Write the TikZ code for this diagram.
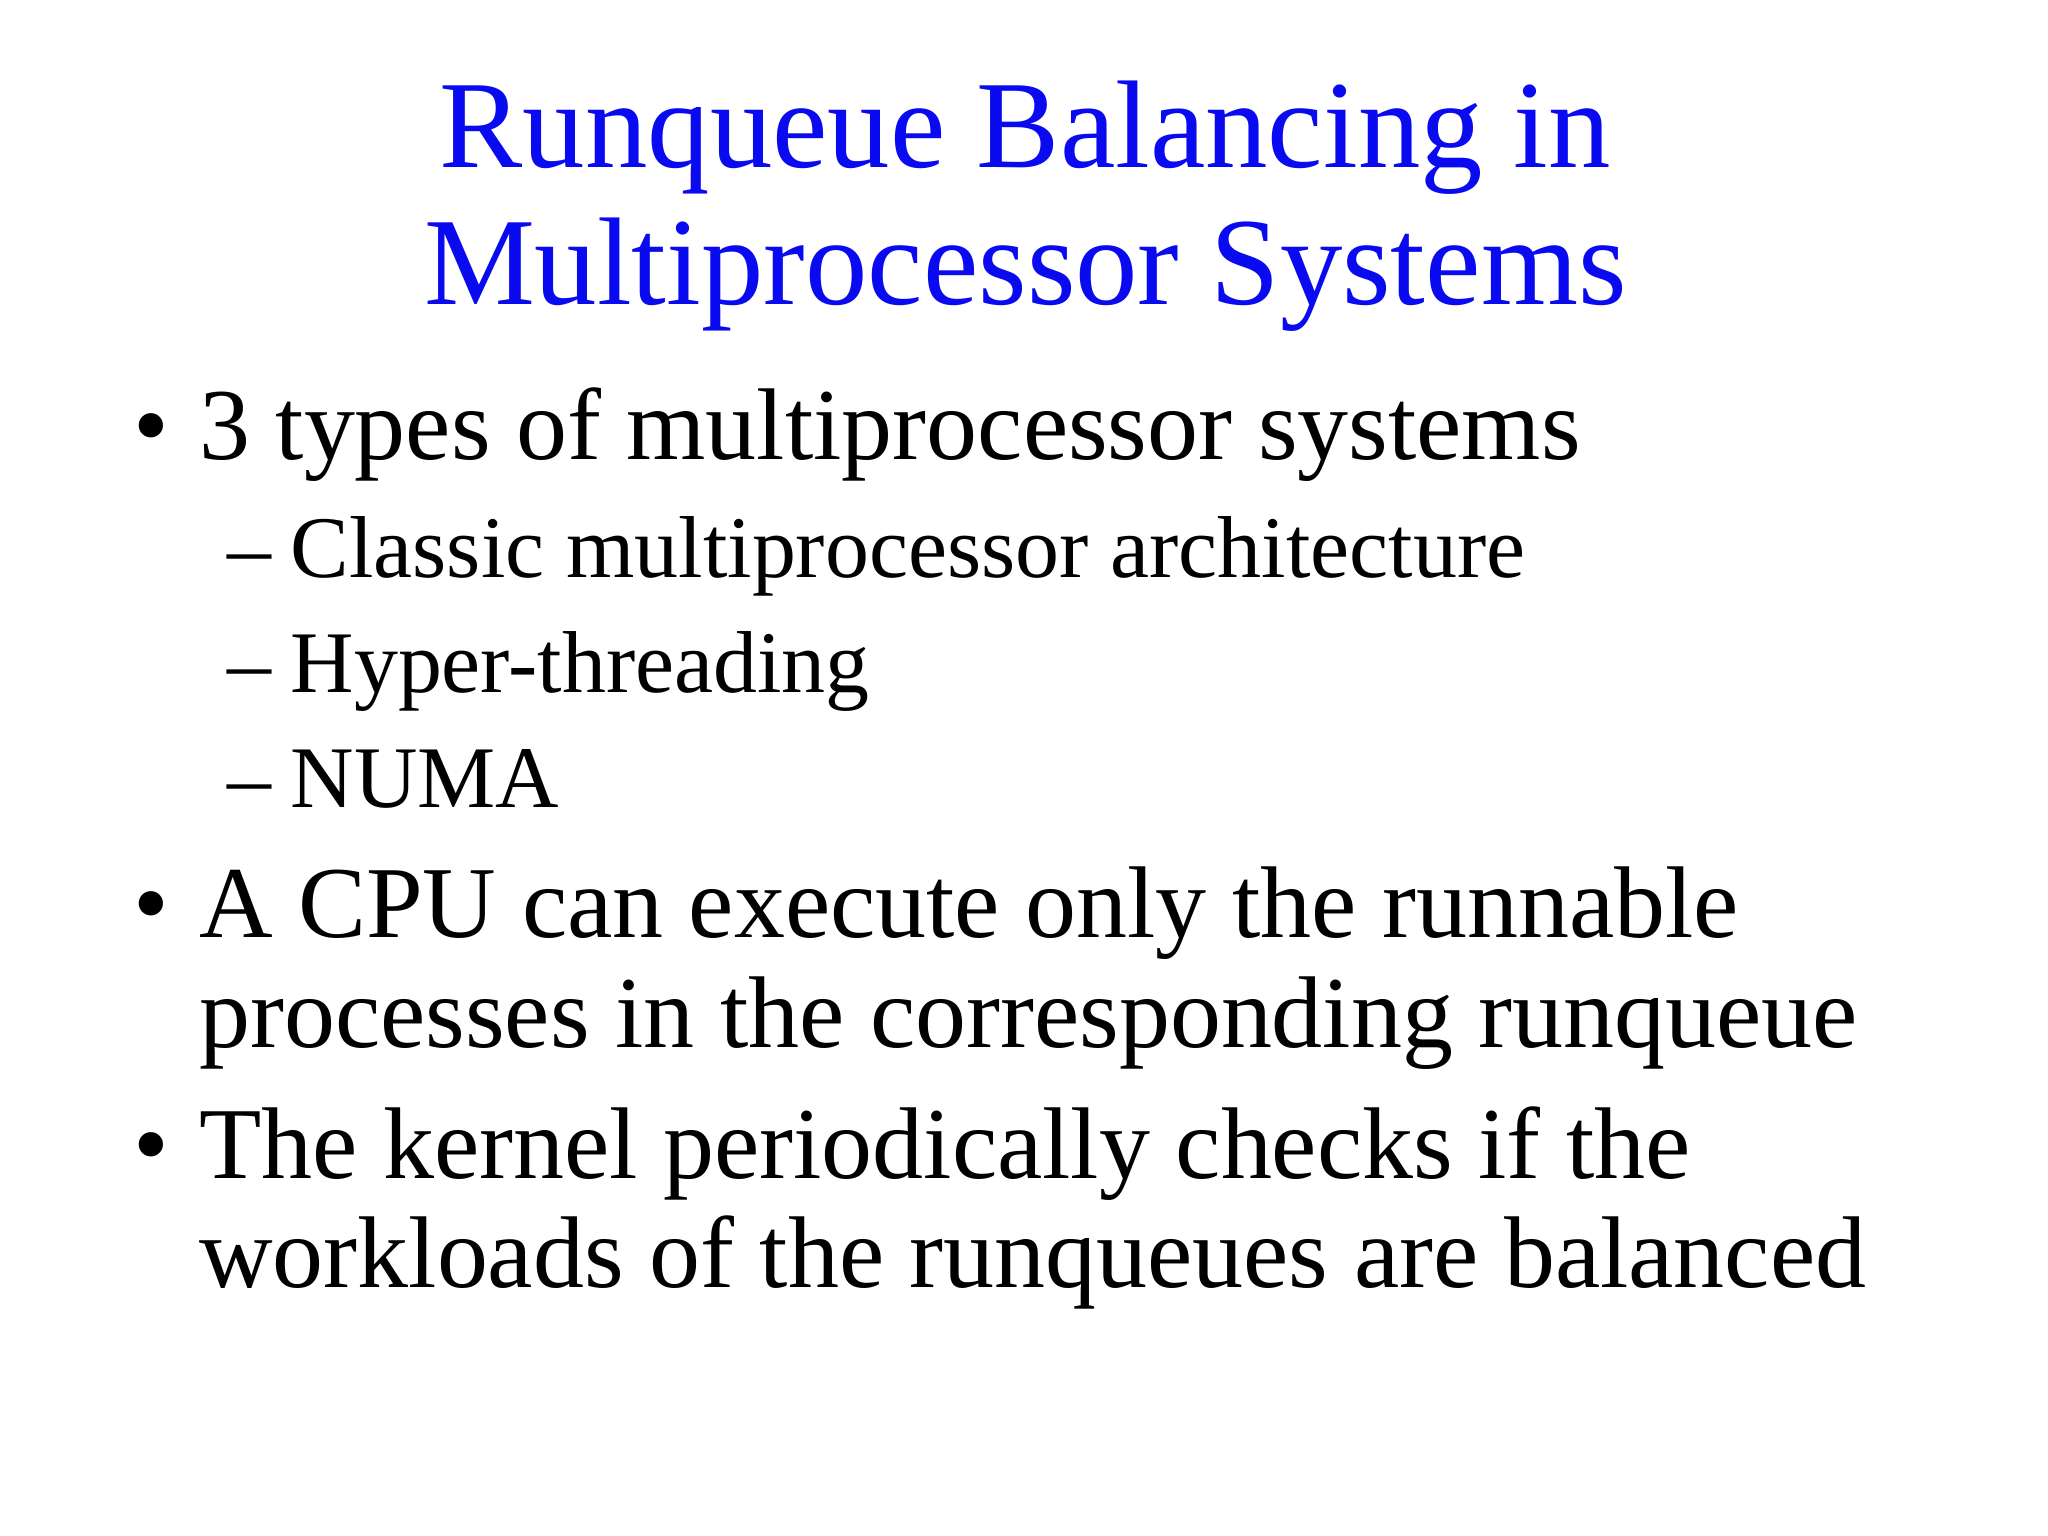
\documentclass[tikz,border=0pt]{standalone}
\usepackage{fontspec}
\setmainfont{Liberation Serif}
\definecolor{titleblue}{RGB}{10,10,240}
\begin{document}
\begin{tikzpicture}[x=0.013061cm,y=-0.013061cm,
  title/.style={anchor=base,inner sep=0,text=titleblue,font=\fontsize{35.5}{40}\selectfont},
  lvl/.style={anchor=base west,inner sep=0,font=\fontsize{29}{34}\selectfont},
  sub/.style={anchor=base west,inner sep=0,font=\fontsize{25}{30}\selectfont}]
\useasboundingbox (0,0) rectangle (1568,1176);
\node[title] (t1) at (785,128) {Runqueue Balancing in};
\node[title] (t2) at (785,233) {Multiprocessor Systems};
\node[lvl] (b1d) at (102,352) {•};
\node[lvl] (b1) at (152,352) {3 types of multiprocessor systems};
\node[sub] (s1d) at (174,442) {–};
\node[sub] (s1) at (222,442) {Classic multiprocessor architecture};
\node[sub] (s2d) at (174,530) {–};
\node[sub] (s2) at (222,530) {Hyper-threading};
\node[sub] (s3d) at (174,618) {–};
\node[sub] (s3) at (222,618) {NUMA};
\node[lvl] (b2d) at (102,718) {•};
\node[lvl] (b2) at (152,718) {A CPU can execute only the runnable};
\node[lvl] (b2b) at (152,802) {processes in the corresponding runqueue};
\node[lvl] (b3d) at (102,902) {•};
\node[lvl] (b3) at (152,902) {The kernel periodically checks if the};
\node[lvl] (b3b) at (152,986) {workloads of the runqueues are balanced};
\end{tikzpicture}
\end{document}
